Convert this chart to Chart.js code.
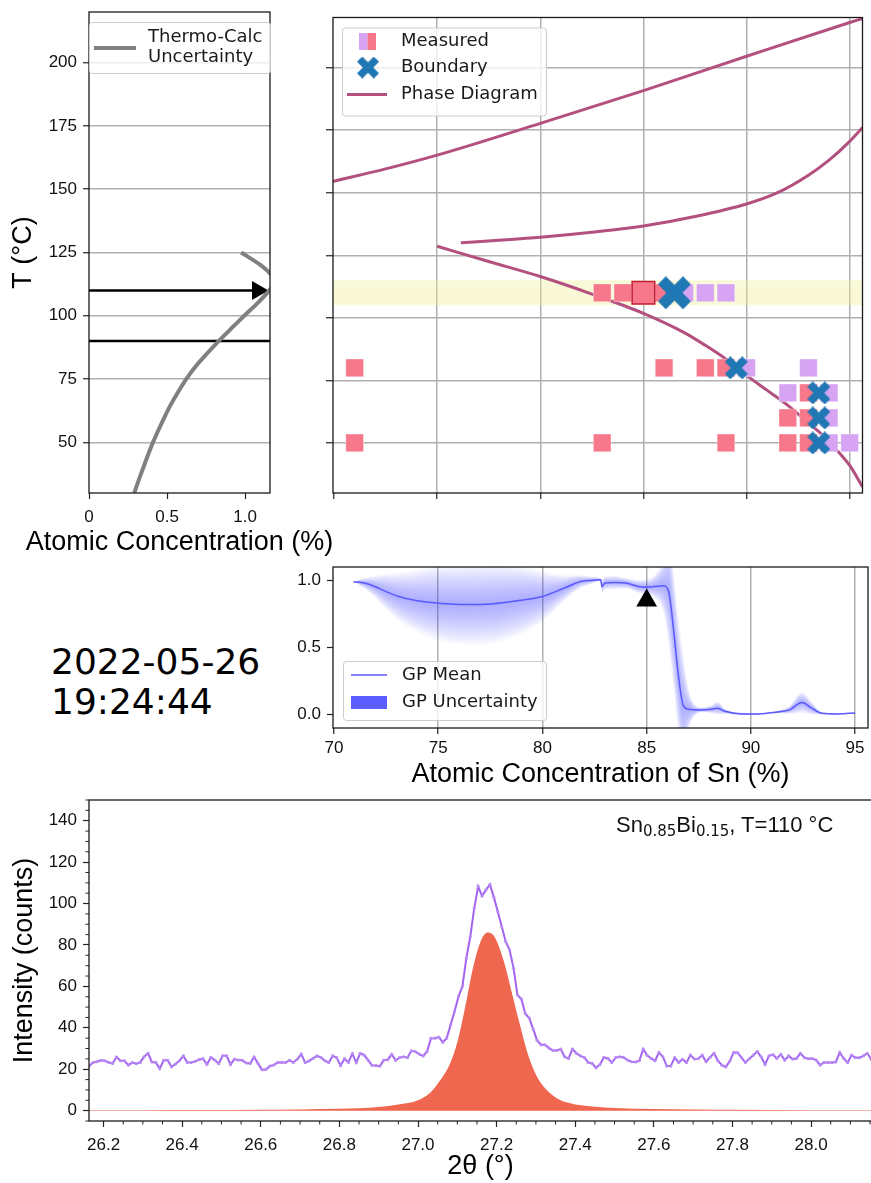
<!DOCTYPE html>
<html lang="en">
<head>
<meta charset="UTF-8">
<title>Sn-Bi boundary scan 2022-05-26</title>
<script src="https://cdn.jsdelivr.net/npm/chart.js"></script>
<style>
  * { margin: 0; padding: 0; box-sizing: border-box; }
  body {
    width: 871px;
    height: 1183px;
    overflow: hidden;
    position: relative;
    background: #fff;
    font-family: "Liberation Sans", Arial, sans-serif;
  }
  .panel { position: absolute; }
  #stamp {
    position: absolute;
    left: 51px;
    top: 642px;
    font-family: "DejaVu Sans", sans-serif;
    font-size: 36px;
    line-height: 40px;
    color: #000;
  }
  #sample {
    position: absolute;
    left: 616px;
    top: 813px;
    font-size: 22px;
    line-height: 24px;
    color: #111;
    white-space: nowrap;
  }
  #sample .sub {
    font-family: "DejaVu Sans", sans-serif;
    font-size: 15px;
    position: relative;
    top: 4px;
  }
</style>
</head>
<body>
<div class="panel" style="left:0;top:0;width:345px;height:570px"><canvas id="tcChart"></canvas></div>
<div class="panel" style="left:300px;top:0;width:580px;height:520px"><canvas id="phaseChart"></canvas></div>
<div class="panel" style="left:290px;top:555px;width:590px;height:245px"><canvas id="gpChart"></canvas></div>
<div class="panel" style="left:0;top:785px;width:880px;height:398px"><canvas id="xrdChart"></canvas></div>
<div id="stamp">2022-05-26<br>19:24:44</div>
<div id="sample">Sn<span class="sub">0.85</span>Bi<span class="sub">0.15</span>, T=110 °C</div>

<script>
// ---- Thermo-Calc uncertainty (left panel) ----
const tcTemp = [30, 35, 40, 45, 50, 55, 60, 65, 70, 75, 80, 85, 90, 95, 100, 105, 110, 113, 116, 120, 125];
const tcConc = [0.29, 0.318, 0.348, 0.378, 0.41, 0.446, 0.484, 0.525, 0.572, 0.623, 0.683, 0.755,
  0.831, 0.912, 0.995, 1.08, 1.155, 1.185, 1.17, 1.1, 0.975];
const setTemp = 110;      // current temperature (arrow)
const guideTemp = 90;
const arrowConc = [0, 1.08];
const guideConc = [0, 1.16];

// ---- phase diagram (top right) ----
const liquidusConc = [69.95, 72.5, 75, 80, 85, 90, 95, 95.62];
const liquidusTemp = [154.5, 159.5, 165, 177.7, 190.8, 204.5, 218, 219.6];
const solvusHiConc = [76.15, 78, 80, 82.5, 85, 87.5, 90, 91.5, 93, 94, 95, 95.62];
const solvusHiTemp = [130, 131, 132.2, 134.2, 136.7, 140.5, 145.5, 150, 157, 163, 170.5, 176];
const solvusLoConc = [75, 77.5, 80, 82.5, 85, 87, 88, 89, 90, 91, 92, 93, 93.5, 94, 94.5, 95, 95.62];
const solvusLoTemp = [128.6, 122.5, 116.5, 109.5, 101.8, 94, 89, 83.5, 77, 71, 65, 58, 54.5, 50.5, 46, 41, 32.5];

const redConc = [83, 84, 86, 71, 86, 88, 89, 93, 92, 93, 71, 83, 89, 92, 93];
const redTemp = [110, 110, 110, 80, 80, 80, 80, 70, 60, 60, 50, 50, 50, 50, 50];
const violetConc = [87, 88, 89, 90, 93, 92, 94, 94, 94, 95];
const violetTemp = [110, 110, 110, 80, 80, 70, 70, 60, 50, 50];
const pickConc = [85];
const pickTemp = [110];
const boundaryConc = [89.5, 93.5, 93.5, 93.5];
const boundaryTemp = [80, 70, 60, 50];
const boundaryNowConc = [86.5];
const boundaryNowTemp = [110];
const bandTemp = [105, 115];

// ---- GP classifier (middle) ----
const gpConc = [70.93, 71.46, 71.95, 72.45, 73.1, 73.93, 75, 76.4, 77.55, 78.87, 80, 81, 81.8, 82.3, 82.8,
  82.85, 83.0, 83.5, 84.0, 84.6, 85.0, 85.4, 85.8, 86.05, 86.3, 86.5, 86.75, 87.0, 87.6, 88.1, 88.4,
  88.75, 89.6, 90.4, 91.2, 91.85, 92.45, 92.9, 93.4, 94.2, 95.0];
const gpMean = [0.99, 0.98, 0.955, 0.92, 0.88, 0.85, 0.83, 0.82, 0.825, 0.85, 0.88, 0.94, 0.99, 1.0, 1.005,
  0.955, 0.98, 0.985, 0.98, 0.955, 0.95, 0.955, 0.96, 0.92, 0.62, 0.32, 0.07, 0.04, 0.035, 0.04, 0.048,
  0.025, 0.005, 0.005, 0.018, 0.035, 0.09, 0.05, 0.01, 0.005, 0.012];
const gpSigma = [0.0, 0.02, 0.04, 0.065, 0.09, 0.115, 0.14, 0.15, 0.15, 0.13, 0.095, 0.05, 0.025, 0.015, 0.005,
  0.025, 0.025, 0.025, 0.02, 0.025, 0.03, 0.045, 0.1, 0.2, 0.22, 0.22, 0.2, 0.08, 0.01, 0.015, 0.025,
  0.01, 0.005, 0.003, 0.005, 0.015, 0.04, 0.025, 0.005, 0.003, 0.003];
const nextConc = [85];
const nextProb = [0.85];

// ---- XRD pattern (bottom) ----
const scanStart = 26.163;
const scanStep = 0.01;
const counts = [
  21.5, 23.2, 23.6, 24.3, 24.1, 23.3, 22.8, 25.9, 24.1, 24.1,
  22.0, 23.2, 22.7, 23.3, 26.0, 27.7, 23.5, 23.3, 20.3, 24.3,
  24.3, 21.2, 22.5, 24.1, 26.4, 23.3, 23.2, 23.8, 24.6, 25.1,
  22.3, 25.7, 24.4, 22.7, 26.5, 26.5, 22.3, 24.9, 24.4, 24.3,
  23.0, 22.8, 25.9, 22.8, 19.8, 19.9, 21.5, 22.0, 23.3, 23.3,
  23.2, 24.3, 23.3, 24.9, 27.3, 23.2, 24.0, 25.2, 26.4, 25.7,
  24.1, 23.2, 26.5, 25.6, 21.7, 25.1, 23.3, 27.5, 23.2, 27.7,
  26.8, 24.4, 21.9, 21.7, 21.5, 24.4, 24.6, 27.2, 24.3, 25.6,
  26.0, 25.6, 28.9, 28.5, 27.3, 26.4, 28.5, 34.9,
  35.0, 35.5, 33.0, 35.0, 41.5, 47.9, 55.1, 60.0, 73.6, 84.1,
  97.7, 108.2, 103.7, 106.6, 109.2, 103.1, 96.1, 88.9, 81.7, 77.7,
  68.8, 55.9, 53.9, 46.8, 44.7, 39.4, 33.9, 31.8, 31.8, 30.2,
  29.1, 29.1, 29.7,
  26.0, 25.2, 29.7, 27.7, 26.4, 25.7, 23.3, 22.8, 20.7, 22.3,
  25.7, 25.2, 23.2, 25.6, 26.0, 25.7, 24.4, 23.6, 23.5, 24.1,
  29.7, 26.7, 25.2, 24.1, 28.1, 26.0, 21.5, 21.5, 25.6, 23.3,
  24.8, 23.2, 26.8, 24.9, 25.1, 26.8, 23.6, 25.7, 27.7, 24.1,
  22.0, 21.1, 23.8, 28.1, 28.0, 25.6, 23.2, 25.1, 26.8, 28.5,
  26.0, 22.3, 26.5, 27.0, 25.2, 27.2, 24.4, 26.4, 24.9, 25.2,
  27.7, 25.6, 25.1, 25.2, 24.4, 22.0, 23.3, 23.2, 23.2, 23.5,
  28.1, 25.2, 23.2, 26.8, 25.6, 25.6, 26.4, 27.7, 24.8
];
const fitTheta = [26.163, 26.3, 26.45, 26.6, 26.7, 26.8, 26.85, 26.9, 26.95, 27.0, 27.03, 27.05, 27.08,
  27.1, 27.12, 27.14, 27.16, 27.177, 27.19, 27.2, 27.22, 27.24, 27.26, 27.28, 27.3, 27.32, 27.34,
  27.36, 27.38, 27.4, 27.45, 27.5, 27.6, 27.7, 27.8, 28.0, 28.155];
const fitCounts = [0.2, 0.25, 0.33, 0.45, 0.6, 0.9, 1.2, 1.8, 3.0, 5.0, 8.5, 13, 22,
  33, 50, 69, 82, 86, 85, 82, 71, 56, 41, 27, 17.5, 11.5, 7.8,
  5.3, 3.9, 3.0, 1.9, 1.3, 0.8, 0.55, 0.4, 0.25, 0.2];

// tick values
const tempTicks = [50, 75, 100, 125, 150, 175, 200];
const concTicks = [0, 0.5, 1.0];
const snTicks = [70, 75, 80, 85, 90, 95];
const probTicks = [0, 0.5, 1.0];
const thetaTicks = [26.2, 26.4, 26.6, 26.8, 27.0, 27.2, 27.4, 27.6, 27.8, 28.0];
const countTicks = [0, 20, 40, 60, 80, 100, 120, 140];

// colours
const PHASE = '#b3507f';
const RED_SQ = '#f7778b';
const VIOLET_SQ = '#d6a4f2';
const XBLUE = '#1f77b4';
const GP_BLUE = '#5a5aff';

Chart.defaults.animation = false;
Chart.defaults.font.family = '"Liberation Sans", Arial, sans-serif';
Chart.defaults.color = '#111';
Chart.defaults.plugins.legend.display = false;
Chart.defaults.plugins.tooltip.enabled = false;

const tickFont = { family: '"Liberation Sans", Arial, sans-serif', size: 17 };
const titleFont = { family: '"Liberation Sans", Arial, sans-serif', size: 27 };
const legendFont = '18px "DejaVu Sans", sans-serif';

const fixTicks = vals => scale => { scale.ticks = vals.map(v => ({ value: v })); };
const fixWidth = w => s => { s.width = w; s.paddingTop = 0; s.paddingBottom = 0; };
const fixHeight = h => s => { s.height = h; s.paddingLeft = 0; s.paddingRight = 0; };
const pts = (xs, ys) => xs.map((x, i) => ({ x: x, y: ys[i] }));
const oneDecimal = v => v.toFixed(1);

// black frame around every plot area
Chart.register({
  id: 'frame',
  afterDraw(chart) {
    const { ctx, chartArea: a } = chart;
    ctx.save();
    ctx.strokeStyle = '#1a1a1a';
    ctx.lineWidth = 1.3;
    ctx.strokeRect(a.left, a.top, a.right - a.left, a.bottom - a.top);
    ctx.restore();
  }
});

function legendBox(ctx, x, y, w, h) {
  ctx.save();
  ctx.fillStyle = 'rgba(255,255,255,0.8)';
  ctx.strokeStyle = '#cccccc';
  ctx.lineWidth = 1;
  ctx.beginPath();
  ctx.roundRect(x + 0.5, y + 0.5, w, h, 3);
  ctx.fill();
  ctx.stroke();
  ctx.restore();
}

function legendText(ctx, text, x, y) {
  ctx.save();
  ctx.font = legendFont;
  ctx.fillStyle = '#1a1a1a';
  ctx.textBaseline = 'middle';
  ctx.fillText(text, x, y);
  ctx.restore();
}

function legendLine(ctx, x1, x2, y, color, width) {
  ctx.save();
  ctx.strokeStyle = color;
  ctx.lineWidth = width;
  ctx.beginPath();
  ctx.moveTo(x1, y);
  ctx.lineTo(x2, y);
  ctx.stroke();
  ctx.restore();
}

// filled "X" marker
function xMarker(size) {
  const c = document.createElement('canvas');
  c.width = c.height = size;
  const g = c.getContext('2d');
  const w = size * 0.34;
  const L = size / 2 * Math.SQRT2 - w / 2;
  g.translate(size / 2, size / 2);
  g.rotate(Math.PI / 4);
  g.fillStyle = XBLUE;
  g.fillRect(-L, -w / 2, 2 * L, w);
  g.fillRect(-w / 2, -L, w, 2 * L);
  return c;
}
const xSmall = xMarker(23);
const xLarge = xMarker(33);

function tickGrid(extra) {
  return Object.assign({ tickLength: 6, tickColor: '#222', tickWidth: 1.2 }, extra);
}

// ---------- left: Thermo-Calc uncertainty ----------
new Chart(document.getElementById('tcChart'), {
  type: 'scatter',
  data: {
    datasets: [
      { data: pts(tcConc, tcTemp), showLine: true, borderColor: '#808080', borderWidth: 4,
        pointRadius: 0, tension: 0.3 },
      { data: pts(arrowConc, [setTemp, setTemp]), showLine: true, borderColor: '#000', borderWidth: 2.5,
        pointRadius: [0, 11], pointStyle: 'triangle', rotation: 90,
        pointBackgroundColor: '#000', pointBorderWidth: 0 },
      { data: pts(guideConc, [guideTemp, guideTemp]), showLine: true, borderColor: '#000', borderWidth: 2.5,
        pointRadius: 0 }
    ]
  },
  options: {
    responsive: true,
    maintainAspectRatio: false,
    events: [],
    layout: { padding: { top: 12, right: 75, left: 0, bottom: 0 } },
    scales: {
      x: {
        type: 'linear', min: 0, max: 1.16,
        afterBuildTicks: fixTicks(concTicks), afterFit: fixHeight(77),
        ticks: { font: tickFont, padding: 8, maxRotation: 0, autoSkip: false,
          callback: v => v === 0 ? '0' : v.toFixed(1) },
        grid: tickGrid({ drawOnChartArea: false }),
        border: { display: false }
      },
      y: {
        min: 30, max: 220,
        afterBuildTicks: fixTicks(tempTicks), afterFit: fixWidth(89),
        ticks: { font: tickFont, padding: 6, autoSkip: false },
        grid: tickGrid({ color: '#b0b0b0', lineWidth: 1.5 }),
        border: { display: false },
        title: { display: true, text: 'T (°C)', font: titleFont, color: '#000',
          padding: { top: 7, bottom: 0 } }
      }
    }
  },
  plugins: [{
    id: 'tcLegend',
    afterDraw(chart) {
      const { ctx, chartArea: a } = chart;
      const x0 = a.left, y0 = a.top + 10;
      legendBox(ctx, x0, y0, a.right - a.left, 51);
      legendLine(ctx, x0 + 5, x0 + 47, y0 + 26, '#808080', 4);
      legendText(ctx, 'Thermo-Calc', x0 + 59, y0 + 15);
      legendText(ctx, 'Uncertainty', x0 + 59, y0 + 35);
      // x title, wider than the axis itself
      ctx.save();
      ctx.font = '27px "Liberation Sans", Arial, sans-serif';
      ctx.fillStyle = '#000';
      ctx.textAlign = 'center';
      ctx.textBaseline = 'middle';
      ctx.fillText('Atomic Concentration (%)', (a.left + a.right) / 2, a.bottom + 50);
      ctx.restore();
    }
  }]
});

// ---------- top right: phase diagram with measurements ----------
const phaseLine = (xs, ys) => ({
  data: pts(xs, ys), showLine: true, borderColor: PHASE, borderWidth: 3, pointRadius: 0,
  cubicInterpolationMode: 'monotone', order: 5
});

new Chart(document.getElementById('phaseChart'), {
  type: 'scatter',
  data: {
    datasets: [
      { data: pts([69.95, 95.62], [bandTemp[1], bandTemp[1]]), showLine: true, fill: { target: 1 },
        backgroundColor: 'rgba(240,240,150,0.38)', borderColor: 'transparent', borderWidth: 0,
        pointRadius: 0, order: 10 },
      { data: pts([69.95, 95.62], [bandTemp[0], bandTemp[0]]), showLine: true,
        borderColor: 'transparent', borderWidth: 0, pointRadius: 0, order: 10 },
      phaseLine(liquidusConc, liquidusTemp),
      phaseLine(solvusHiConc, solvusHiTemp),
      phaseLine(solvusLoConc, solvusLoTemp),
      { data: pts(redConc, redTemp), pointStyle: 'rect', pointRadius: 12.5,
        backgroundColor: RED_SQ, borderColor: 'rgba(255,255,255,0.35)', borderWidth: 1, order: 3 },
      { data: pts(violetConc, violetTemp), pointStyle: 'rect', pointRadius: 12.5,
        backgroundColor: VIOLET_SQ, borderColor: 'rgba(255,255,255,0.35)', borderWidth: 1, order: 3 },
      { data: pts(pickConc, pickTemp), pointStyle: 'rect', pointRadius: 16,
        backgroundColor: RED_SQ, borderColor: '#c41c34', borderWidth: 1.5, order: 2 },
      { data: pts(boundaryConc, boundaryTemp), pointStyle: xSmall, order: 1 },
      { data: pts(boundaryNowConc, boundaryNowTemp), pointStyle: xLarge, order: 1 }
    ]
  },
  options: {
    responsive: true,
    maintainAspectRatio: false,
    events: [],
    layout: { padding: { top: 12, right: 8, left: 0, bottom: 0 } },
    scales: {
      x: {
        type: 'linear', min: 69.95, max: 95.62,
        afterBuildTicks: fixTicks(snTicks), afterFit: fixHeight(27),
        ticks: { display: false },
        grid: tickGrid({ lineWidth: 1.5,
          color: c => (c.tick && c.tick.value === 70) ? 'rgba(0,0,0,0)' : '#b0b0b0' }),
        border: { display: false }
      },
      y: {
        min: 30, max: 220,
        afterBuildTicks: fixTicks(tempTicks), afterFit: fixWidth(33),
        ticks: { display: false },
        grid: tickGrid({ color: '#b0b0b0', lineWidth: 1.5, tickLength: 7 }),
        border: { display: false }
      }
    }
  },
  plugins: [{
    id: 'phaseLegend',
    afterDraw(chart) {
      const { ctx, chartArea: a } = chart;
      const x0 = a.left + 9, y0 = a.top + 10;
      legendBox(ctx, x0, y0, 204, 88);
      ctx.fillStyle = VIOLET_SQ;
      ctx.fillRect(x0 + 17, y0 + 5.5, 8.5, 17);
      ctx.fillStyle = RED_SQ;
      ctx.fillRect(x0 + 25.5, y0 + 5.5, 8.5, 17);
      ctx.drawImage(xSmall, x0 + 26 - 11, y0 + 40 - 11, 22, 22);
      legendLine(ctx, x0 + 5, x0 + 45, y0 + 67, PHASE, 3);
      legendText(ctx, 'Measured', x0 + 59, y0 + 14);
      legendText(ctx, 'Boundary', x0 + 59, y0 + 40);
      legendText(ctx, 'Phase Diagram', x0 + 59, y0 + 67);
    }
  }]
});

// ---------- middle: GP mean and uncertainty haze ----------
// stacked translucent bands out to two sigma give the soft falloff
const hazeSteps = [];
for (let j = 1; j <= 20; j++) hazeSteps.push(j / 10);
const gpSets = [];
hazeSteps.forEach(k => {
  const lower = gpSets.length + 1;
  gpSets.push({
    data: gpConc.map((c, i) => ({ x: c, y: gpMean[i] + k * gpSigma[i] })),
    showLine: true, fill: { target: lower }, backgroundColor: 'rgba(80,80,255,0.027)',
    borderColor: 'transparent', borderWidth: 0, pointRadius: 0,
    cubicInterpolationMode: 'monotone', order: 5
  });
  gpSets.push({
    data: gpConc.map((c, i) => ({ x: c, y: gpMean[i] - k * gpSigma[i] })),
    showLine: true, borderColor: 'transparent', borderWidth: 0, pointRadius: 0,
    cubicInterpolationMode: 'monotone', order: 5
  });
});
gpSets.push({
  data: pts(gpConc, gpMean), showLine: true, borderColor: GP_BLUE, borderWidth: 1.5,
  pointRadius: 0, cubicInterpolationMode: 'monotone', order: 2
});
gpSets.push({
  data: pts(nextConc, nextProb), pointStyle: 'triangle', pointRadius: 12,
  backgroundColor: '#000', borderColor: '#000', borderWidth: 0, order: 1
});

new Chart(document.getElementById('gpChart'), {
  type: 'scatter',
  data: { datasets: gpSets },
  options: {
    responsive: true,
    maintainAspectRatio: false,
    events: [],
    layout: { padding: { top: 12, right: 8, left: 0, bottom: 0 } },
    scales: {
      x: {
        type: 'linear', min: 69.95, max: 95.62,
        afterBuildTicks: fixTicks(snTicks), afterFit: fixHeight(72),
        ticks: { font: tickFont, padding: 4, maxRotation: 0, autoSkip: false },
        grid: tickGrid({ lineWidth: 1.5,
          color: c => (c.tick && c.tick.value === 70) ? 'rgba(0,0,0,0)' : '#b0b0b0' }),
        border: { display: false },
        title: { display: true, text: 'Atomic Concentration of Sn (%)', font: titleFont, color: '#000',
          padding: { top: 0, bottom: 9 } }
      },
      y: {
        min: -0.1, max: 1.1,
        afterBuildTicks: fixTicks(probTicks), afterFit: fixWidth(43),
        ticks: { font: tickFont, padding: 6, autoSkip: false, callback: oneDecimal },
        grid: tickGrid({ drawOnChartArea: false }),
        border: { display: false }
      }
    }
  },
  plugins: [{
    id: 'gpLegend',
    afterDraw(chart) {
      const { ctx, chartArea: a } = chart;
      const x0 = a.left + 10, y0 = a.top + 94;
      legendBox(ctx, x0, y0, 203, 59);
      legendLine(ctx, x0 + 8, x0 + 44, y0 + 14, GP_BLUE, 1.5);
      ctx.fillStyle = '#5c5cff';
      ctx.fillRect(x0 + 8, y0 + 35, 36, 13);
      legendText(ctx, 'GP Mean', x0 + 59, y0 + 14);
      legendText(ctx, 'GP Uncertainty', x0 + 59, y0 + 41);
    }
  }]
});

// ---------- bottom: diffraction pattern ----------
const scanTheta = counts.map((_, i) => +(scanStart + i * scanStep).toFixed(3));

new Chart(document.getElementById('xrdChart'), {
  type: 'scatter',
  data: {
    datasets: [
      { data: pts(fitTheta, fitCounts), showLine: true, fill: 'origin', backgroundColor: '#f0674f',
        borderColor: 'transparent', borderWidth: 0, pointRadius: 0,
        cubicInterpolationMode: 'monotone', order: 2 },
      { data: pts(scanTheta, counts), showLine: true, borderColor: '#a364f0', borderWidth: 2,
        pointRadius: 1.6, pointBackgroundColor: '#b88af5', pointBorderWidth: 0, order: 1 }
    ]
  },
  options: {
    responsive: true,
    maintainAspectRatio: false,
    events: [],
    layout: { padding: { top: 15, right: 8, left: 0, bottom: 0 } },
    scales: {
      x: {
        type: 'linear', min: 26.163, max: 28.155,
        afterBuildTicks: fixTicks(thetaTicks), afterFit: fixHeight(62),
        ticks: { font: tickFont, padding: 8, maxRotation: 0, autoSkip: false, callback: oneDecimal },
        grid: tickGrid({ drawOnChartArea: false }),
        border: { display: false },
        title: { display: true, text: '2θ (°)', font: titleFont, color: '#000',
          padding: { top: 0, bottom: 0 } }
      },
      y: {
        min: -5, max: 150,
        afterBuildTicks: fixTicks(countTicks), afterFit: fixWidth(89),
        ticks: { font: tickFont, padding: 6, autoSkip: false },
        grid: tickGrid({ drawOnChartArea: false }),
        border: { display: false },
        title: { display: true, text: 'Intensity (counts)', font: titleFont, color: '#000',
          padding: { top: 8, bottom: 0 } }
      }
    }
  },
  plugins: [{
    id: 'minorTicks',
    afterDraw(chart) {
      const { ctx, chartArea: a, scales } = chart;
      ctx.save();
      ctx.strokeStyle = '#222';
      ctx.lineWidth = 1;
      ctx.beginPath();
      for (let k = 523; k <= 563; k++) {          // every 0.05 deg
        if (k % 4 === 0) continue;
        const px = scales.x.getPixelForValue(k * 0.05);
        if (px < a.left || px > a.right) continue;
        ctx.moveTo(px, a.bottom);
        ctx.lineTo(px, a.bottom + 3.5);
      }
      for (let v = -5; v <= 150; v += 5) {         // every 5 counts
        if (v % 20 === 0) continue;
        const py = scales.y.getPixelForValue(v);
        if (py < a.top || py > a.bottom) continue;
        ctx.moveTo(a.left - 3.5, py);
        ctx.lineTo(a.left, py);
      }
      ctx.stroke();
      ctx.restore();
    }
  }]
});
</script>
</body>
</html>
